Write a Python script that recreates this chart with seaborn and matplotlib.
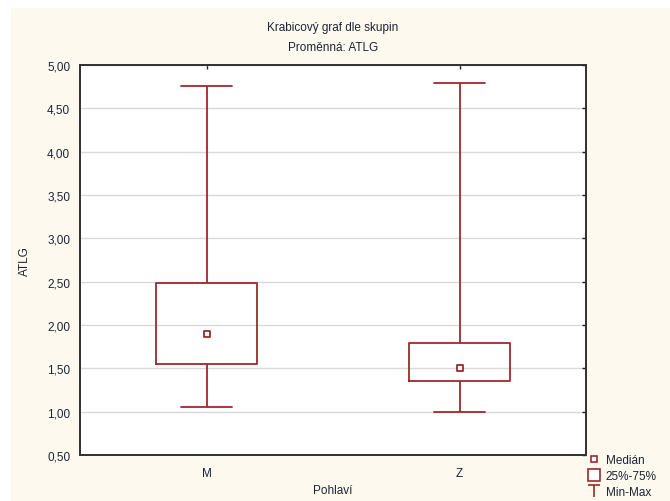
import numpy as np
import pandas as pd
import matplotlib
matplotlib.use("Agg")
import matplotlib.pyplot as plt
from matplotlib.path import Path
from matplotlib.patches import Rectangle
from matplotlib.lines import Line2D
import seaborn as sns

# ---- data ----
groups = ["M", "Z"]
mins = [1.05, 1.00]
q1s = [1.55, 1.35]
medians = [1.90, 1.50]
q3s = [2.49, 1.79]
maxs = [4.76, 4.79]
yticks = [0.5, 1.0, 1.5, 2.0, 2.5, 3.0, 3.5, 4.0, 4.5, 5.0]
ytick_labels = ["0,50", "1,00", "1,50", "2,00", "2,50", "3,00", "3,50", "4,00", "4,50", "5,00"]

# five-point sample per group reproduces min / quartiles / median / max exactly
rows = []
for g, a, b, c, d, e in zip(groups, mins, q1s, medians, q3s, maxs):
    for v in (a, b, c, d, e):
        rows.append({"Pohlaví": g, "ATLG": v})
df = pd.DataFrame(rows)
med_df = pd.DataFrame({"Pohlaví": groups, "ATLG": medians})

sns.set_style("white")
plt.rcParams["font.family"] = ["Liberation Sans", "DejaVu Sans"]

RED = "#9b2a2f"
CREAM = "#fef9ee"
TXT = "#1e2436"

fig = plt.figure(figsize=(6.70, 5.02), dpi=100)
fig.patch.set_facecolor("white")
fig.patches.append(Rectangle((11 / 670, 0), 1, 1 - 9 / 502, transform=fig.transFigure,
                             facecolor=CREAM, edgecolor="none", zorder=-10))
ax = fig.add_axes([80 / 670, 1 - 456 / 502, 506 / 670, 390 / 502])
ax.set_facecolor("white")

sns.boxplot(data=df, x="Pohlaví", y="ATLG", order=groups, whis=(0, 100), width=0.40,
            fill=False, color=RED, linewidth=1.3, showfliers=False,
            medianprops={"visible": False}, ax=ax)
sns.stripplot(data=med_df, x="Pohlaví", y="ATLG", order=groups, jitter=False,
              marker="s", size=5, color="white", edgecolor=RED, linewidth=1.3,
              ax=ax, zorder=5)

# cap width to match reference
for line in ax.lines:
    xd = np.asarray(line.get_xdata(), dtype=float)
    yd = np.asarray(line.get_ydata(), dtype=float)
    if len(xd) == 2 and yd[0] == yd[1] and xd[0] != xd[1]:
        c = xd.mean()
        line.set_xdata([c - 0.1, c + 0.1])
    line.set_color(RED)

ax.set_xlim(-0.5, 1.5)
ax.set_ylim(0.5, 5.0)
ax.set_yticks(yticks)
ax.set_yticklabels(ytick_labels)
ax.yaxis.grid(True, color="#d9d9d9", linewidth=1.0)
ax.set_axisbelow(True)
for s in ax.spines.values():
    s.set_visible(True)
    s.set_color("#303030")
    s.set_linewidth(1.4)
ax.tick_params(axis="both", direction="in", length=3, width=1, color="#202020",
               labelsize=8.5, labelcolor=TXT, top=True, right=True,
               labeltop=False, labelright=False)
ax.tick_params(axis="x", pad=9)
ax.tick_params(axis="y", pad=7)
ax.set_xlabel("Pohlaví", fontsize=8.5, color=TXT, labelpad=3)
ax.set_ylabel("ATLG", fontsize=8.5, color=TXT, labelpad=12)

fig.text(0.5 * (80 + 586) / 670, 1 - 28 / 502, "Krabicový graf dle skupin",
         ha="center", va="center", fontsize=8.5, color=TXT)
fig.text(0.5 * (80 + 586) / 670, 1 - 48 / 502, "Proměnná: ATLG",
         ha="center", va="center", fontsize=8.5, color=TXT)

# legend
tpath = Path([(-1, 1), (1, 1), (0, 1), (0, -1)],
             [Path.MOVETO, Path.LINETO, Path.MOVETO, Path.LINETO])
handles = [
    Line2D([], [], linestyle="none", marker="s", markersize=4.5,
           markerfacecolor="white", markeredgecolor=RED, markeredgewidth=1.2),
    Line2D([], [], linestyle="none", marker="s", markersize=9,
           markerfacecolor="white", markeredgecolor=RED, markeredgewidth=1.2),
    Line2D([], [], linestyle="none", marker=tpath, markersize=8,
           markerfacecolor="none", markeredgecolor=RED, markeredgewidth=1.2),
]
fig.legend(handles, ["Medián", "25%-75%", "Min-Max"], loc="upper left",
           bbox_to_anchor=(588 / 670, 1 - 454 / 502), frameon=False, fontsize=8.5,
           labelcolor=TXT, handlelength=0.8, handletextpad=0.6, labelspacing=0.35,
           borderpad=0.1, borderaxespad=0)

fig.savefig("out.png", dpi=100, facecolor=fig.get_facecolor())
